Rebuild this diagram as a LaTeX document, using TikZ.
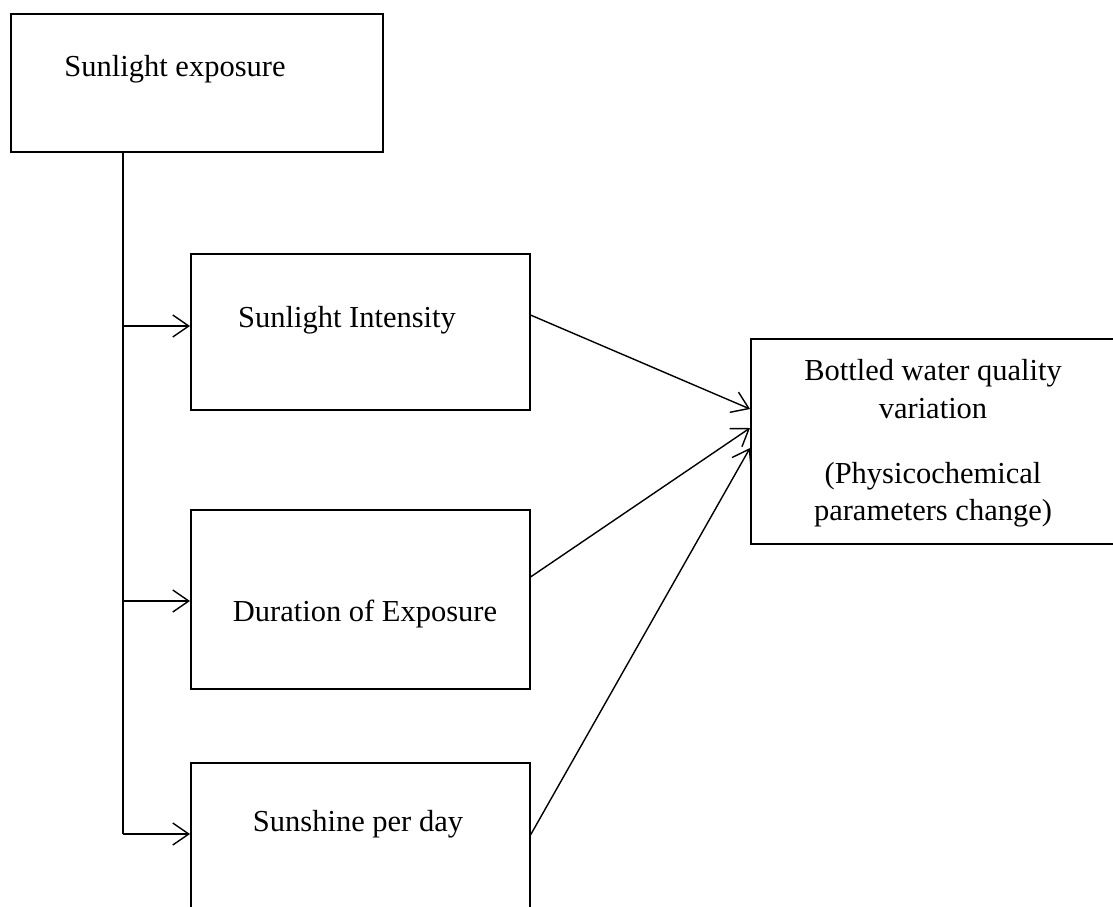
\documentclass[tikz,border=0pt]{standalone}
\usepackage{fontspec}
\setmainfont{Liberation Serif}
\usetikzlibrary{arrows.meta}
\begin{document}
\begin{tikzpicture}[x=1pt,y=-1pt,
  box/.style={draw, line width=1.5pt, inner sep=0pt, anchor=north west},
  lbl/.style={font=\fontsize{30.5}{36}\selectfont, anchor=base, inner sep=0pt},
  conn/.style={line width=1.4pt},
  arr/.style={conn, -{Straight Barb[length=16pt,width=22pt,line width=1.4pt]}}]
\useasboundingbox (0,0) rectangle (1113,906);
\clip (0,0) rectangle (1113,906);
\node[box, minimum width=372pt, minimum height=138pt] (se) at (10,13) {};
\node[box, minimum width=339pt, minimum height=156pt] (si) at (190,253) {};
\node[box, minimum width=339pt, minimum height=179pt] (de) at (190,509) {};
\node[box, minimum width=339pt, minimum height=200pt] (sp) at (190,762) {};
\node[box, minimum width=380pt, minimum height=205pt] (bw) at (750,338) {};
\node[lbl] (tse) at (175,76) {Sunlight exposure};
\node[lbl] (tsi) at (347,327) {Sunlight Intensity};
\node[lbl] (tde) at (365,621) {Duration of Exposure};
\node[lbl] (tsp) at (358,831) {Sunshine per day};
\node[lbl] (tb1) at (933,380) {Bottled water quality};
\node[lbl] (tb2) at (933,418) {variation};
\node[lbl] (tb3) at (933,483) {(Physicochemical};
\node[lbl] (tb4) at (933,520) {parameters change)};
\coordinate (top) at (123,151);
\coordinate (j1) at (123,326);
\coordinate (j2) at (123,601);
\coordinate (j3) at (123,834);
\draw[conn] (top) -- (j3);
\draw[arr] (j1) -- (j1 -| si.west);
\draw[arr] (j2) -- (j2 -| de.west);
\draw[arr] (j3) -- (j3 -| sp.west);
\coordinate (o1) at (529,315);
\coordinate (o2) at (529,577);
\coordinate (o3) at (529,835);
\coordinate (i1) at (750,409);
\coordinate (i2) at (750,428);
\coordinate (i3) at (750,448);
\draw[arr] (o1 -| si.east) -- (i1 -| bw.west);
\draw[arr] (o2 -| de.east) -- (i2 -| bw.west);
\draw[arr] (o3 -| sp.east) -- (i3 -| bw.west);
\end{tikzpicture}
\end{document}
